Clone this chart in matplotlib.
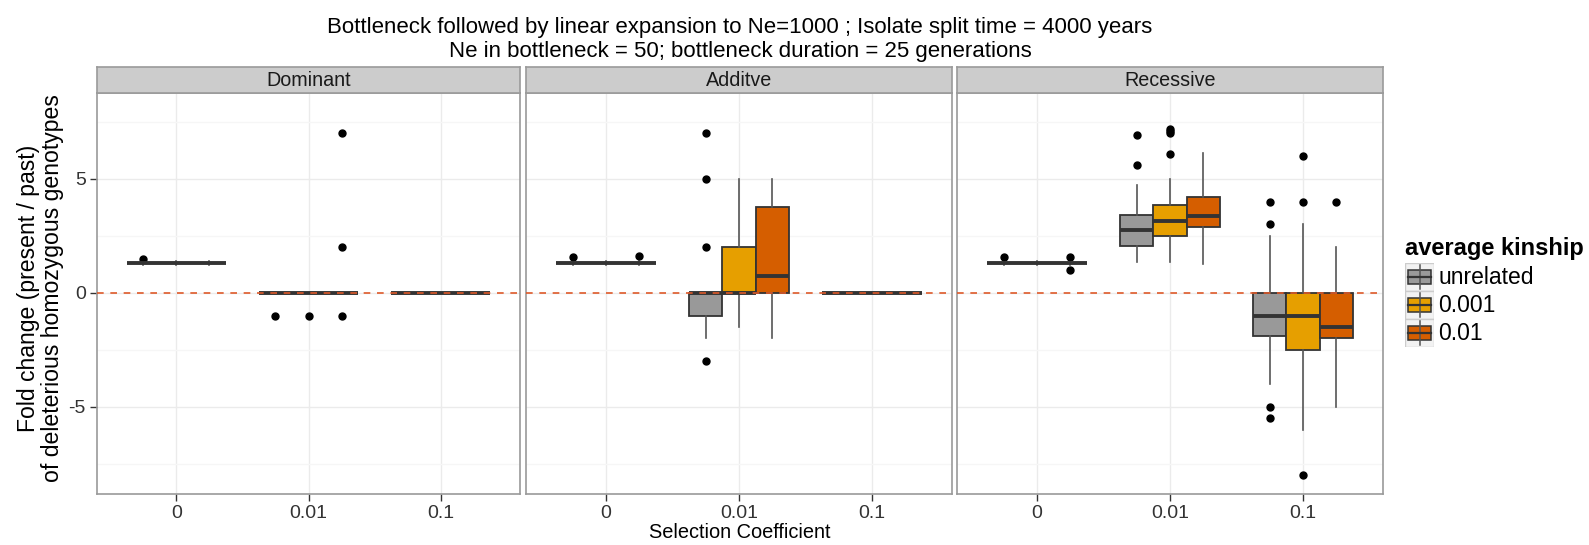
import matplotlib.pyplot as plt
from matplotlib.patches import Rectangle

plt.rcParams['font.family'] = ['Liberation Sans', 'DejaVu Sans']
plt.rcParams['axes.unicode_minus'] = False

panels = ['Dominant', 'Additve', 'Recessive']
coefs = ['0', '0.01', '0.1']
kinship = ['unrelated', '0.001', '0.01']
colors = ['#999999', '#E69F00', '#D55E00']

# box stats, indexed [panel][coef][kinship]
q1 = [
    [[1.3, 1.3, 1.3], [0, 0, 0], [0, 0, 0]],
    [[1.3, 1.3, 1.3], [-1, 0, 0], [0, 0, 0]],
    [[1.3, 1.3, 1.3], [2.06, 2.5, 2.9], [-1.9, -2.5, -2]],
]
median = [
    [[1.3, 1.3, 1.3], [0, 0, 0], [0, 0, 0]],
    [[1.3, 1.3, 1.3], [0, 0, 0.75], [0, 0, 0]],
    [[1.3, 1.3, 1.3], [2.75, 3.17, 3.36], [-1, -1, -1.5]],
]
q3 = [
    [[1.3, 1.3, 1.3], [0, 0, 0], [0, 0, 0]],
    [[1.3, 1.3, 1.3], [0, 2, 3.75], [0, 0, 0]],
    [[1.3, 1.3, 1.3], [3.4, 3.83, 4.2], [0, 0, 0]],
]
whisker_lo = [
    [[1.22, 1.22, 1.22], [0, 0, 0], [0, 0, 0]],
    [[1.22, 1.22, 1.22], [-2, -1.5, -2], [0, 0, 0]],
    [[1.22, 1.22, 1.22], [1.33, 1.33, 1.27], [-4, -6, -5]],
]
whisker_hi = [
    [[1.38, 1.38, 1.38], [0, 0, 0], [0, 0, 0]],
    [[1.38, 1.38, 1.38], [0, 5, 5], [0, 0, 0]],
    [[1.38, 1.38, 1.38], [4.72, 5, 6.14], [2.5, 3, 2]],
]
outliers = [
    [[[1.5], [], []], [[-1], [-1], [7, 2, -1]], [[], [], []]],
    [[[1.55], [], [1.6]], [[7, 5, 2, -3], [], []], [[], [], []]],
    [[[1.58], [], [1.55, 1.0]], [[6.9, 5.6], [7.2, 7.1, 7.0, 6.1], []],
     [[4, 3, -5, -5.5], [6, 4, -8], [4]]],
]

W, H = 1589, 545
fig = plt.figure(figsize=(W / 100, H / 100), dpi=100)


def px_axes(x0, y0, x1, y1):
    return fig.add_axes([x0 / W, 1 - y1 / H, (x1 - x0) / W, (y1 - y0) / H])


edge = '#333333'
border = '#9A9A9A'
panel_x = [(97, 520), (526, 952), (957, 1383)]
top, bottom, strip_top = 93, 494, 67

for p, name in enumerate(panels):
    x0, x1 = panel_x[p]
    ax = px_axes(x0, top, x1, bottom)
    ax.set_xlim(0.4, 3.6)
    ax.set_ylim(-8.82, 8.76)
    ax.set_yticks([-5, 0, 5])
    ax.set_yticks([-7.5, -2.5, 2.5, 7.5], minor=True)
    ax.set_xticks([1, 2, 3])
    ax.set_xticklabels(coefs)
    ax.grid(True, which='major', color='#EBEBEB', lw=1)
    ax.grid(True, which='minor', axis='y', color='#F6F6F6', lw=1)
    ax.set_axisbelow(True)
    ax.tick_params(which='minor', length=0)
    ax.tick_params(which='major', length=5, width=1, color=edge, labelcolor='#333333',
                   labelsize=14, pad=3)
    if p > 0:
        ax.tick_params(axis='y', length=0, labelleft=False)
    for s in ax.spines.values():
        s.set_color(border)
        s.set_linewidth(1.2)

    ax.axhline(0, color='#DE5A2A', lw=1.2, ls=(0, (4, 4)), zorder=4)

    for c in range(3):
        for k in range(3):
            stats = [dict(q1=q1[p][c][k], med=median[p][c][k], q3=q3[p][c][k],
                          whislo=whisker_lo[p][c][k], whishi=whisker_hi[p][c][k],
                          fliers=outliers[p][c][k])]
            ax.bxp(stats, positions=[c + 1 + (k - 1) * 0.25], widths=0.25,
                   patch_artist=True, showcaps=False, manage_ticks=False,
                   boxprops=dict(facecolor=colors[k], edgecolor=edge, lw=1.3),
                   whiskerprops=dict(color='#555555', lw=1.2),
                   medianprops=dict(color=edge, lw=2.8, solid_capstyle='butt'),
                   flierprops=dict(marker='o', markerfacecolor='black',
                                   markeredgecolor='black', markersize=5))

    st = px_axes(x0, strip_top, x1, top)
    st.set_facecolor('#CCCCCC')
    st.set_xticks([])
    st.set_yticks([])
    for s in st.spines.values():
        s.set_color(border)
        s.set_linewidth(1.2)
    st.text(0.5, 0.5, name, ha='center', va='center', fontsize=14.2, color='#1A1A1A')

fig.text(740 / W, 1 - 27 / H,
         'Bottleneck followed by linear expansion to Ne=1000 ; Isolate split time = 4000 years',
         ha='center', va='center', fontsize=16)
fig.text(740 / W, 1 - 51 / H,
         'Ne in bottleneck = 50; bottleneck duration = 25 generations',
         ha='center', va='center', fontsize=16)
fig.text(29 / W, 1 - 288 / H, 'Fold change (present / past)', rotation=90,
         ha='center', va='center', fontsize=16.6)
fig.text(53 / W, 1 - 288 / H, 'of deleterious homozygous genotypes', rotation=90,
         ha='center', va='center', fontsize=16.6)
fig.text(740 / W, 1 - 532 / H, 'Selection Coefficient', ha='center', va='center',
         fontsize=14.4)

# legend
fig.text(1405 / W, 1 - 249 / H, 'average kinship', ha='left', va='center',
         fontsize=17, fontweight='bold')
lg = px_axes(1405, 263, 1434, 347)
lg.set_xlim(0, 1)
lg.set_ylim(3, 0)
lg.axis('off')
for k, lab in enumerate(kinship):
    lg.add_patch(Rectangle((0, k), 1, 1, facecolor='#F2F2F2', edgecolor='#CCCCCC', lw=1))
    lg.plot([0.5, 0.5], [k + 0.08, k + 0.92], color='#555555', lw=1.1)
    lg.add_patch(Rectangle((0.1, k + 0.25), 0.8, 0.5, facecolor=colors[k],
                           edgecolor=edge, lw=1.1))
    lg.plot([0.1, 0.9], [k + 0.5, k + 0.5], color=edge, lw=1.6)
    fig.text(1438 / W, 1 - (263 + 28 * k + 15) / H, lab, ha='left', va='center',
             fontsize=16.5)

fig.savefig('out.png', dpi=100)
